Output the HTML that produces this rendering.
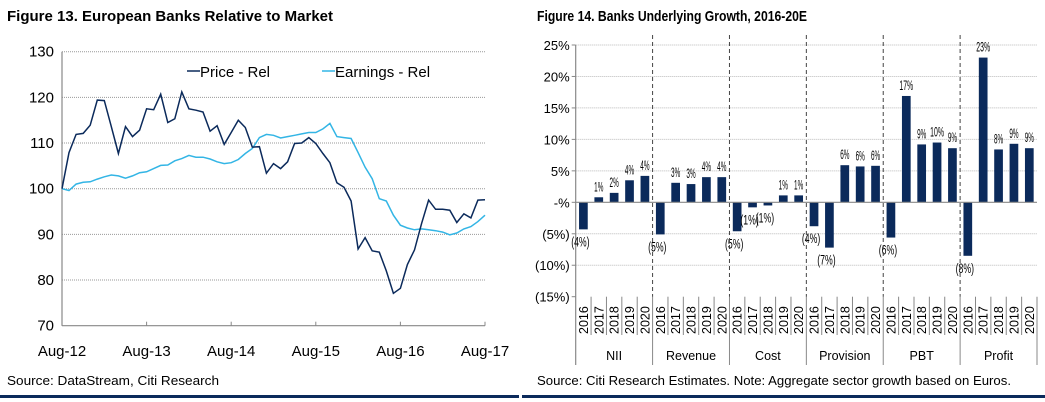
<!DOCTYPE html>
<html><head><meta charset="utf-8"><style>
body{margin:0;background:#fff;}
svg{display:block;font-family:"Liberation Sans",Arial,sans-serif;}
</style></head><body>
<svg id="s" width="1045" height="402" viewBox="0 0 1045 402">
<text x="7" y="21" font-size="15" font-weight="bold" textLength="326" lengthAdjust="spacingAndGlyphs">Figure 13. European Banks Relative to Market</text>
<text x="537" y="21" font-size="15" font-weight="bold" textLength="270" lengthAdjust="spacingAndGlyphs">Figure 14. Banks Underlying Growth, 2016-20E</text>
<text x="7" y="385" font-size="13" textLength="212" lengthAdjust="spacingAndGlyphs">Source: DataStream, Citi Research</text>
<text x="537" y="385" font-size="13" textLength="474" lengthAdjust="spacingAndGlyphs">Source: Citi Research Estimates. Note: Aggregate sector growth based on Euros.</text>
<rect x="0" y="395" width="519" height="3" fill="#0b2a5b"/>
<rect x="522" y="395" width="523" height="3" fill="#0b2a5b"/>
<g id="left"></g>
<g id="right"></g>
</svg>
<script>
const priceRel=[100,107.9,111.9,112.1,113.9,119.4,119.3,113.6,107.7,113.6,111.4,112.8,117.5,117.3,120.7,114.5,115.3,121.2,117.5,117.2,116.8,112.6,113.8,109.7,112.3,115,113.4,109.1,109.2,103.4,105.5,104.4,105.9,109.9,110,111.2,109.9,107.7,105.7,101.3,100.3,97.3,86.8,89.3,86.4,86.1,82,77.1,78.2,83.4,86.6,92.4,97.5,95.5,95.5,95.3,92.6,94.5,93.6,97.5,97.6];
const earningsRel=[100,99.6,101,101.4,101.5,102.1,102.6,103,102.8,102.3,102.8,103.5,103.7,104.4,105.1,105.2,106.1,106.6,107.3,106.9,106.9,106.5,105.9,105.5,105.7,106.4,107.7,108.8,111.2,111.9,111.7,111.1,111.4,111.7,112,112.3,112.3,113.1,114.3,111.4,111.2,111,107.9,104.7,102.2,97.8,97.3,94.2,92,91.4,91,91.2,91,90.8,90.5,89.9,90.3,91.2,91.7,92.8,94.2];
const leftYTicks=[70,80,90,100,110,120,130];
const leftXTicks=["Aug-12","Aug-13","Aug-14","Aug-15","Aug-16","Aug-17"];
const groups=["NII","Revenue","Cost","Provision","PBT","Profit"];
const years=["2016","2017","2018","2019","2020"];
const growth=[-4.3,0.8,1.5,3.5,4.2,-5.1,3.1,2.9,4.0,4.0,-4.6,-0.8,-0.5,1.1,1.1,-3.8,-7.2,5.9,5.7,5.8,-5.6,16.9,9.2,9.5,8.6,-8.5,23.0,8.4,9.3,8.6];
const growthLabels=["(4%)","1%","2%","4%","4%","(5%)","3%","3%","4%","4%","(5%)","(1%)","(1%)","1%","1%","(4%)","(7%)","6%","6%","6%","(6%)","17%","9%","10%","9%","(8%)","23%","8%","9%","9%"];
const rightYTicks=[-15,-10,-5,0,5,10,15,20,25];
const rightYLabels=["(15%)","(10%)","(5%)","-%","5%","10%","15%","20%","25%"];

const NS="http://www.w3.org/2000/svg";
function mk(parent,tag,attrs,txt){const e=document.createElementNS(NS,tag);for(const k in attrs)e.setAttribute(k,attrs[k]);if(txt!==undefined)e.textContent=txt;parent.appendChild(e);return e;}

// LEFT CHART
const L=document.getElementById('left');
const lx0=62,lx1=485,ly0=325.7,ly1=51.7;
const ly=v=>ly0+(v-70)/60*(ly1-ly0);
const lx=i=>lx0+i*(lx1-lx0)/(priceRel.length-1);
leftYTicks.forEach(t=>{
  if(t>70){const g=mk(L,'line',{x1:lx0,x2:lx1,y1:ly(t),y2:ly(t),stroke:'#999','stroke-dasharray':'1 1','stroke-width':1});
  
  }
  const tx=mk(L,'text',{x:lx0-8,y:ly(t)+5,'font-size':15,'text-anchor':'end'},String(t));
  
  
});
mk(L,'line',{x1:lx0,x2:lx0,y1:ly1,y2:ly0,stroke:'#888','stroke-width':1.2});
mk(L,'line',{x1:lx0,x2:lx1,y1:ly0,y2:ly0,stroke:'#888','stroke-width':1.2});
leftXTicks.forEach((t,i)=>{
  const x=lx0+i*(lx1-lx0)/(leftXTicks.length-1);
  mk(L,'line',{x1:x,x2:x,y1:ly0,y2:ly0-4,stroke:'#888'});
  const tx=mk(L,'text',{x:x,y:356,'font-size':15,'text-anchor':'middle'},t);
  
  
});
function linePath(arr){return arr.map((v,i)=>(i?'L':'M')+lx(i).toFixed(1)+' '+ly(v).toFixed(1)).join(' ');}
const pe=mk(L,'path',{d:linePath(earningsRel),fill:'none',stroke:'#33b5e5','stroke-width':1.5});


const pp=mk(L,'path',{d:linePath(priceRel),fill:'none',stroke:'#0b2a5b','stroke-width':1.5});


const lg1=mk(L,'g',{});


mk(lg1,'line',{x1:187,x2:200,y1:71,y2:71,stroke:'#0b2a5b','stroke-width':1.5});
mk(lg1,'text',{x:200,y:77,'font-size':15},'Price - Rel');
const lg2=mk(L,'g',{});


mk(lg2,'line',{x1:322,x2:335,y1:71,y2:71,stroke:'#33b5e5','stroke-width':1.5});
mk(lg2,'text',{x:335,y:77,'font-size':15},'Earnings - Rel');

// RIGHT CHART
const R=document.getElementById('right');
const rx0=575.7,rx1=1037,ryTop=45,ryBot=296.7;
const ry=v=>ryBot+(v+15)/40*(ryTop-ryBot);
const slot=(rx1-rx0)/growth.length;
rightYTicks.forEach((t,i)=>{
  if(t!==-15&&t!==0){const g=mk(R,'line',{x1:rx0,x2:rx1,y1:ry(t),y2:ry(t),stroke:'#bbb','stroke-dasharray':'1 1'});
  
  }
  mk(R,'line',{x1:rx0-4,x2:rx0,y1:ry(t),y2:ry(t),stroke:'#888'});
  const tx=mk(R,'text',{x:rx0-6,y:ry(t)+5,'font-size':13,'text-anchor':'end'},rightYLabels[i]);
  
  
});
mk(R,'line',{x1:rx0,x2:rx0,y1:ryTop,y2:365,stroke:'#888','stroke-width':1.2});
growth.forEach((v,i)=>{
  const cx=rx0+(i+0.5)*slot,bw=8.7;
  const y0=ry(0),yv=ry(v);
  const b=mk(R,'rect',{x:cx-bw/2,y:Math.min(y0,yv),width:bw,height:Math.abs(yv-y0),fill:'#0b2a5b'});
  
  
  const ty=v>=0?yv-6:yv+17;
  const tx=mk(R,'text',{x:cx-(v<0?3:0),y:ty,'font-size':14,'text-anchor':'middle',textLength:growthLabels[i].length*4.6,lengthAdjust:'spacingAndGlyphs'},growthLabels[i]);
  
  
  const yr=mk(R,'text',{transform:`translate(${cx+4.5},334) rotate(-90)`,'font-size':12.5},years[i%5]);
  
  
  mk(R,'line',{x1:rx0+(i+1)*slot,x2:rx0+(i+1)*slot,y1:ryBot,y2:(i%5===4)?365:335,stroke:'#888'});
});
mk(R,'line',{x1:rx0,x2:rx1,y1:ry(0),y2:ry(0),stroke:'#888','stroke-width':1.2});
groups.forEach((g,gi)=>{
  const gx=rx0+gi*5*slot;
  if(gi>0){const d=mk(R,'line',{x1:gx,x2:gx,y1:ryTop-10,y2:ryBot,stroke:'#444','stroke-dasharray':'4 3'});
  
  }
  const t=mk(R,'text',{x:gx+2.5*slot,y:360,'font-size':12.5,'text-anchor':'middle'},g);
  
  
});
</script>
</body></html>
